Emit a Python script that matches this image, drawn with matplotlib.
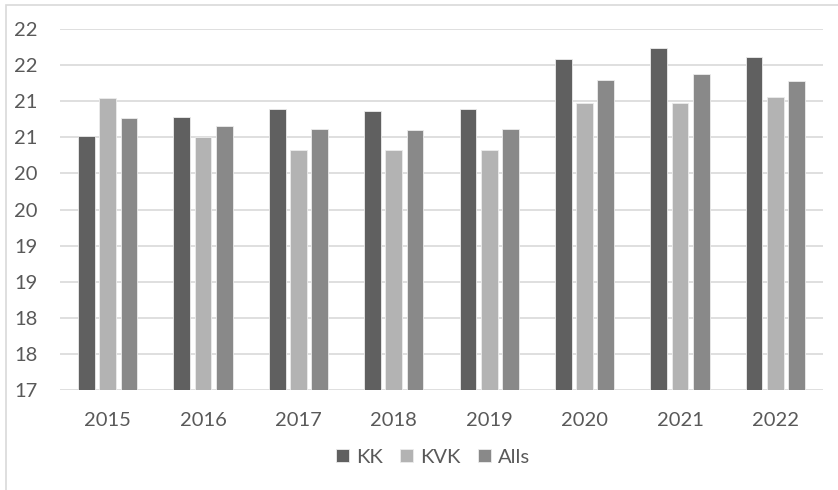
# Grouped bar chart KK / KVK / Alls 2015-2022
import math
import matplotlib.pyplot as plt
from matplotlib.ticker import FuncFormatter, MultipleLocator
from matplotlib.patches import Rectangle
import numpy as np

# Data
years = ['2015', '2016', '2017', '2018', '2019', '2020', '2021', '2022']
kk = [20.52, 20.78, 20.89, 20.87, 20.89, 21.58, 21.74, 21.61]
kvk = [21.04, 20.51, 20.32, 20.32, 20.32, 20.97, 20.98, 21.06]
alls = [20.77, 20.65, 20.62, 20.60, 20.61, 21.29, 21.38, 21.28]
series_names = ['KK', 'KVK', 'Alls']
colors = ['#606060', '#b3b3b3', '#898989']
text_color = '#595959'
grid_color = '#d9d9d9'

plt.rcParams['font.family'] = ['Lato', 'DejaVu Sans']


def excel_round(v, pos):
    # Excel rounds half away from zero
    return str(int(math.floor(v + 0.5)))


def main():
    fig = plt.figure(figsize=(8.38, 4.9), dpi=100)
    ax = fig.add_axes([60 / 838, 1 - 390 / 490, 763 / 838, 361 / 490])

    x = np.arange(len(years))
    width = 0.175
    step = 0.223
    for i, (vals, name, col) in enumerate(zip([kk, kvk, alls], series_names, colors)):
        ax.bar(x + (i - 1) * step, np.array(vals) - 17, width, bottom=17,
               color=col, edgecolor='#ececec', linewidth=0.6, label=name, zorder=3)

    ax.set_xlim(-0.5, len(years) - 0.5)
    ax.set_ylim(17, 22)
    ax.yaxis.set_major_locator(MultipleLocator(0.5))
    ax.yaxis.set_major_formatter(FuncFormatter(excel_round))
    ax.set_xticks(x)
    ax.set_xticklabels(years)

    ax.grid(axis='y', color=grid_color, linewidth=1.2, zorder=0)
    ax.set_axisbelow(True)
    for s in ax.spines.values():
        s.set_visible(False)
    ax.tick_params(axis='both', length=0, labelsize=14.5, colors=text_color)
    ax.tick_params(axis='y', pad=16)
    ax.tick_params(axis='x', pad=16)

    # chart border (runs past the right and bottom edges of the image)
    fig.patches.append(Rectangle((6 / 838, -10 / 490), 850 / 838, 495 / 490,
                                 transform=fig.transFigure, fill=False,
                                 edgecolor=grid_color, linewidth=1.2))

    fig.legend(loc='center', bbox_to_anchor=(433 / 838, 1 - 457 / 490), ncol=3,
               frameon=False, fontsize=14.5, handlelength=0.65, handleheight=0.65,
               handletextpad=0.35, columnspacing=0.85, labelcolor=text_color)

    fig.savefig('out.png', dpi=100)


if __name__ == "__main__":
    main()
